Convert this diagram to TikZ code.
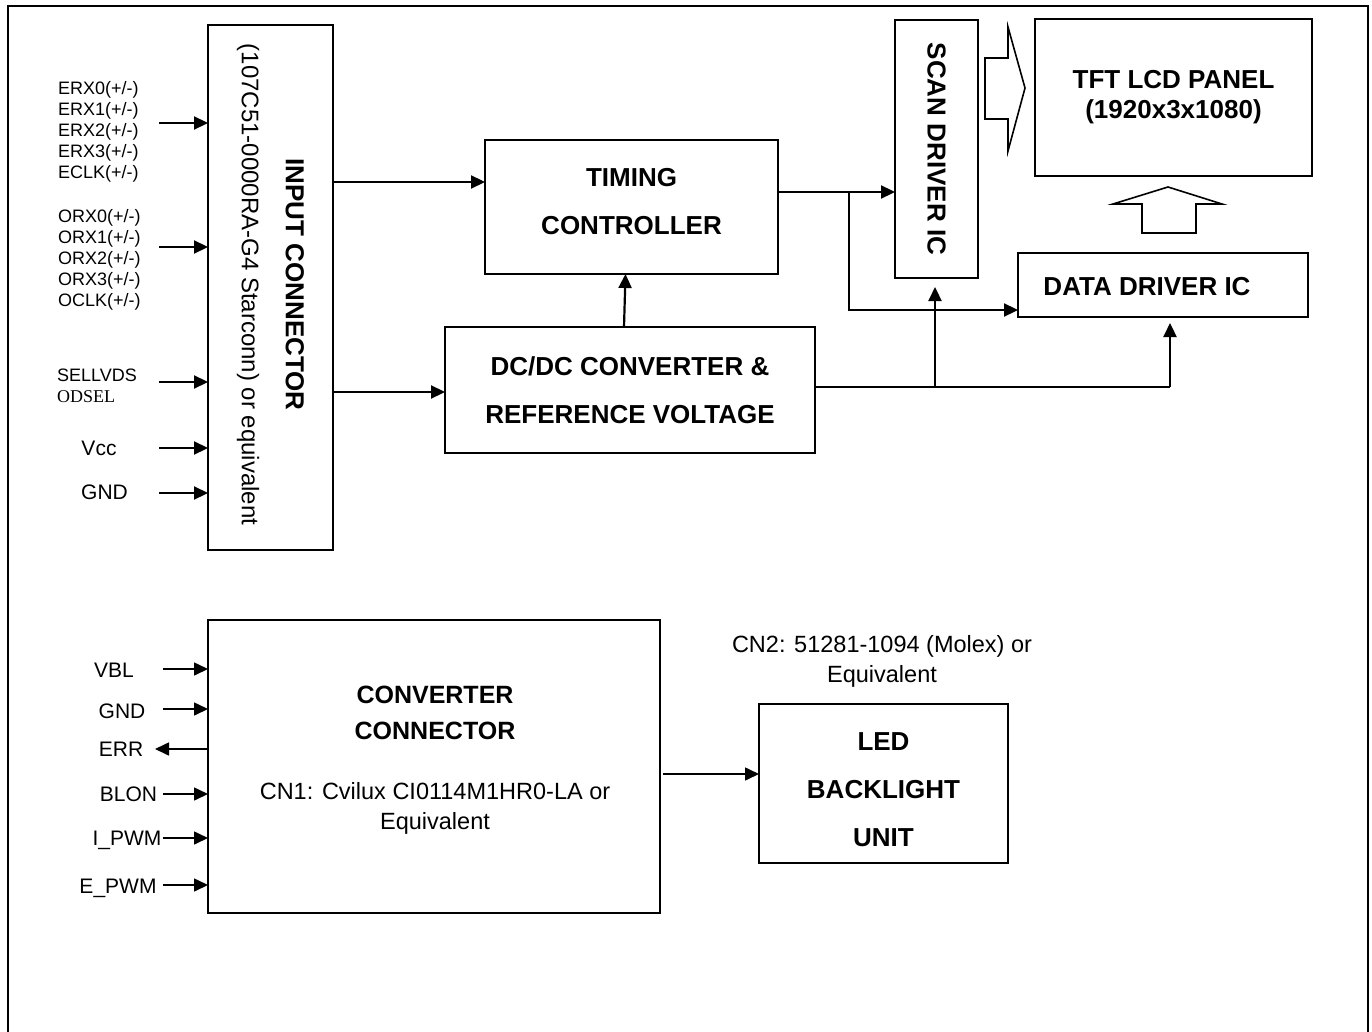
\documentclass[tikz,border=0pt]{standalone}
\usepackage{fontspec}
\setmainfont{Liberation Sans}
\newfontfamily\odselfont{Liberation Serif}
\usetikzlibrary{arrows.meta,positioning}

\begin{document}
\begin{tikzpicture}[
  x=1pt,y=-1pt,
  sig/.style={-{Triangle[length=14pt,width=13pt]},line width=2.2pt},
  thinsig/.style={-{Triangle[length=14pt,width=13pt]},line width=1.6pt},
  wire/.style={line width=2.2pt},
  blk/.style={draw,line width=2.5pt,inner sep=0pt,outer sep=0pt,align=center,
              font=\fontsize{26}{48}\selectfont\bfseries},
  blktxt/.style={inner sep=0pt,align=center,font=\fontsize{26}{48}\selectfont\bfseries},
  hollow/.style={draw,line width=1.6pt,line join=miter},
  lbl/.style={inner sep=0pt,align=left,font=\fontsize{18}{21}\selectfont},
  lblb/.style={inner sep=0pt,font=\fontsize{21}{24}\selectfont},
  partno/.style={inner sep=0pt,align=center,font=\fontsize{23.5}{30}\selectfont}
]
\useasboundingbox (0,0) rectangle (1372,1032);
% ---------- frame (open at the bottom)
\draw[line width=2pt] (8,1032) |- (1368,6) -- (1368,1032);
% ---------- input connector
\node[blk,minimum width=125pt,minimum height=525pt] (incon) at (270.5,287.5) {};
\node[rotate=-90,inner sep=0pt,align=center,font=\fontsize{24}{44}\selectfont] (inconTxt) at ([yshift=3pt]incon.center)
  {{\fontsize{26}{44}\selectfont\bfseries INPUT CONNECTOR}\\(107C51-0000RA-G4 Starconn) or equivalent};
\node[lbl,anchor=west] (erx) at (58,132) {ERX0(+/-)\\ERX1(+/-)\\ERX2(+/-)\\ERX3(+/-)\\ECLK(+/-)};
\node[lbl,anchor=west] (orx) at (58,260) {ORX0(+/-)\\ORX1(+/-)\\ORX2(+/-)\\ORX3(+/-)\\OCLK(+/-)};
\node[lbl,anchor=west] (sel) at (57,386) {SELLVDS\\{\odselfont ODSEL}};
\node[lblb] (vcc) at (99,448) {Vcc};
\node[lblb] (gnd) at (104.5,492) {GND};
\foreach \yy/\nm in {123/erx,247/orx,382/sel,448/vcc,493/gnd}{
  \coordinate (in\nm) at (159,\yy);
  \draw[sig] (in\nm) -- (in\nm -| incon.west);
}
% ---------- timing, dc/dc, drivers, panel
\node[blk,minimum width=293pt,minimum height=134pt] (tcon) at (631.5,207) {};
\node[blktxt] (tconTxt) at ([yshift=5pt]tcon.center) {TIMING\\CONTROLLER};
\node[blk,minimum width=370pt,minimum height=126pt] (dc) at (630,390) {DC/DC CONVERTER \&\\REFERENCE VOLTAGE};
\node[blk,minimum width=83pt,minimum height=258pt] (scan) at (936.5,149) {};
\node[blktxt,rotate=-90] (scanTxt) at (scan.center) {SCAN DRIVER IC};
\node[blk,minimum width=277pt,minimum height=157pt,font=\fontsize{26}{30}\selectfont\bfseries] (tft) at (1173.5,97.5)
  {TFT LCD PANEL\\(1920x3x1080)};
\node[blk,minimum width=290pt,minimum height=64pt] (data) at (1163,285) {};
\node[blktxt] (dataTxt) at (1147,287) {DATA DRIVER IC};
% hollow arrows into the panel
\draw[hollow] (985,58) -- (1008,58) -- (1008,27) -- (1025,88) -- (1008,151) -- (1008,119) -- (985,119) -- cycle;
\draw[hollow] (1142,233) -- (1142,204) -- (1113,204) -- (1168,187) -- (1222,204) -- (1196,204) -- (1196,233) -- cycle;
% ---------- top connections
\coordinate (tIn) at (333,182);
\draw[sig] (tIn) -- (tIn -| tcon.west);
\draw[sig] ([yshift=-2pt]incon.east |- dc.west) -- ([yshift=-2pt]dc.west);
\draw[sig] ([xshift=-6pt]dc.north) -- ([xshift=-6pt]tcon.south);
\coordinate (tOut) at ([yshift=15pt]tcon.east);
\coordinate (split) at (849,192);
\draw[sig] (tOut) -- (tOut -| scan.west);
\draw[sig] (split) |- ([yshift=-25pt]data.west);
\coordinate (dcOut) at ([yshift=3pt]dc.east);
\coordinate (scanUp) at (935,387);
\coordinate (dataUp) at (1170,387);
\draw[wire] (dcOut) -- (dataUp);
\draw[sig,shorten >=9pt] (scanUp) -- (scanUp |- scan.south);
\draw[sig,shorten >=6pt] (dataUp) -- (dataUp |- data.south);
% ---------- converter connector and backlight
\node[blk,minimum width=452pt,minimum height=293pt] (cc) at (434,766.5) {};
\node[blktxt,font=\fontsize{25}{36}\selectfont\bfseries] (ccTitle) at (435,713) {CONVERTER\\CONNECTOR};
\node[partno] (ccPart) at (435,808.5) {CN1: Cvilux CI0114M1HR0-LA or\\Equivalent};
\node[blk,minimum width=249pt,minimum height=159pt] (led) at (883.5,783.5) {};
\node[blktxt] (ledTxt) at ([yshift=-6pt]led.center) {LED\\BACKLIGHT\\UNIT};
\node[partno] (cn2) at (882,661) {CN2: 51281-1094 (Molex) or\\Equivalent};
\node[lblb] (vbl) at (114,670) {VBL};
\node[lblb] (gnd2) at (122,711) {GND};
\node[lblb] (err) at (121,749) {ERR};
\node[lblb] (blon) at (128.5,794) {BLON};
\node[lblb] (ipwm) at (127,840) {I\_PWM};
\node[lblb] (epwm) at (118,888) {E\_PWM};
\foreach \yy in {669,709,794,838,885}{
  \coordinate (bl\yy) at (163,\yy);
  \draw[thinsig] (bl\yy) -- (bl\yy -| cc.west);
}
\coordinate (errOut) at (155,749);
\draw[thinsig] (errOut -| cc.west) -- (errOut);
\draw[thinsig,shorten <=3pt] ([yshift=-7.5pt]cc.east) -- ([yshift=-7.5pt]cc.east -| led.west);
\end{tikzpicture}
\end{document}
